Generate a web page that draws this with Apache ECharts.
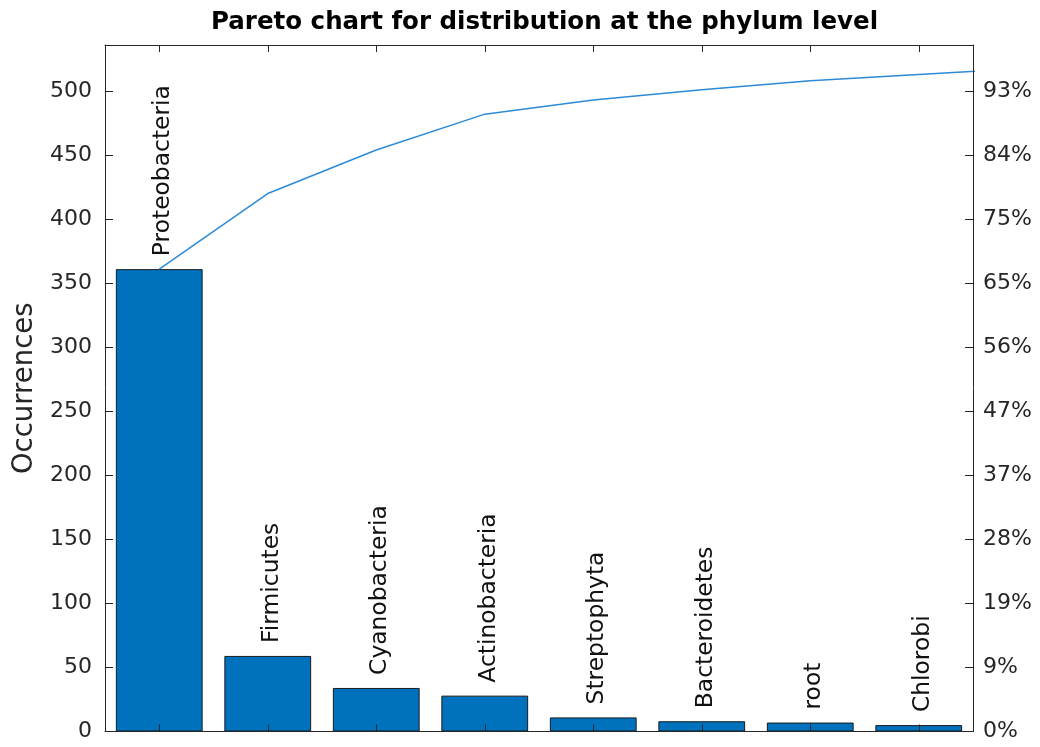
<!DOCTYPE html>
<html><head><meta charset="utf-8">
<script src="https://cdn.jsdelivr.net/npm/echarts@6/dist/echarts.min.js"></script>
<style>html,body{margin:0;padding:0;background:#fff}#c{width:1040px;height:747px}</style>
</head><body><div id="c"></div>
<script>
// ---- data ----
const categories = ['Proteobacteria','Firmicutes','Cyanobacteria','Actinobacteria','Streptophyta','Bacteroidetes','root','Chlorobi'];
const counts = [361, 59, 34, 28, 11, 8, 7, 5];
const nextCount = 5;          // next (unshown) category, its cumulative point lies beyond the right edge
const total = 536;            // total occurrences (left axis max)
const leftTickLabels = ['0','50','100','150','200','250','300','350','400','450','500'];
const rightTickLabels = ['0%','9%','19%','28%','37%','47%','56%','65%','75%','84%','93%'];

// cumulative line points (x positions 1..n+1)
const cumPoints = [];
let run = 0;
counts.concat([nextCount]).forEach((c, i) => { run += c; cumPoints.push([i + 1, run]); });
const xTickPositions = categories.map((_, i) => i + 1);

const FONT = 'DejaVu Sans';
const AX = '#262626';

const xVal = (pos) => ({
  type: 'value', min: 0.5, max: 8.5, position: pos, z: 10,
  axisLine: {show: true, onZero: false, lineStyle: {color: AX, width: 1}},
  axisTick: {show: true, inside: true, length: 7, customValues: xTickPositions, lineStyle: {color: AX, width: 1}},
  axisLabel: {show: false},
  splitLine: {show: false}
});

const chart = echarts.init(document.getElementById('c'), null, {renderer: 'canvas'});
chart.setOption({
  animation: false,
  backgroundColor: '#fff',
  title: {
    text: 'Pareto chart for distribution at the phylum level',
    left: 206, top: 5,
    textStyle: {fontFamily: FONT, fontWeight: 'bold', fontSize: 24.5, color: '#000'}
  },
  grid: {left: 105, right: 67, top: 45, bottom: 15.5, containLabel: false, outerBoundsMode: 'none'},
  xAxis: [
    {type: 'category', data: categories, boundaryGap: true, show: false},
    xVal('bottom'),
    xVal('top')
  ],
  yAxis: [
    {type: 'value', position: 'left', min: 0, max: total, interval: 50, z: 10,
     name: 'Occurrences', nameLocation: 'middle', nameGap: 64, nameRotate: 90,
     nameTextStyle: {fontFamily: FONT, fontSize: 27.5, color: AX},
     axisLine: {show: true, onZero: false, lineStyle: {color: AX, width: 1}},
     axisTick: {show: true, inside: true, length: 8, lineStyle: {color: AX}},
     axisLabel: {showMaxLabel: false, margin: 13, fontFamily: FONT, fontSize: 22, color: AX,
       formatter: v => { const i = Math.round(v / 50); return (v % 50 === 0 && leftTickLabels[i] !== undefined) ? leftTickLabels[i] : ''; }},
     splitLine: {show: false}},
    {type: 'value', position: 'right', min: 0, max: total, interval: 50, z: 10,
     axisLine: {show: true, onZero: false, lineStyle: {color: AX, width: 1}},
     axisTick: {show: true, inside: true, length: 8, lineStyle: {color: AX}},
     axisLabel: {showMaxLabel: false, margin: 10, fontFamily: FONT, fontSize: 22, color: AX,
       formatter: v => { const i = Math.round(v / 50); return (v % 50 === 0 && rightTickLabels[i] !== undefined) ? rightTickLabels[i] : ''; }},
     splitLine: {show: false}}
  ],
  series: [
    {type: 'bar', xAxisIndex: 0, yAxisIndex: 0, data: counts, barWidth: '80%',
     itemStyle: {color: '#0072BD', borderColor: '#1a1a1a', borderWidth: 1},
     label: {show: true, position: 'top', distance: 13, rotate: 90, align: 'left', verticalAlign: 'middle',
       offset: [0, 4],
       formatter: '{b}', fontFamily: FONT, fontSize: 23.4, color: '#111'}},
    {type: 'line', xAxisIndex: 1, yAxisIndex: 0, data: cumPoints, symbol: 'none', clip: true, z: 3,
     lineStyle: {color: '#2C8AD6', width: 1.5}}
  ]
});
</script>
</body></html>
